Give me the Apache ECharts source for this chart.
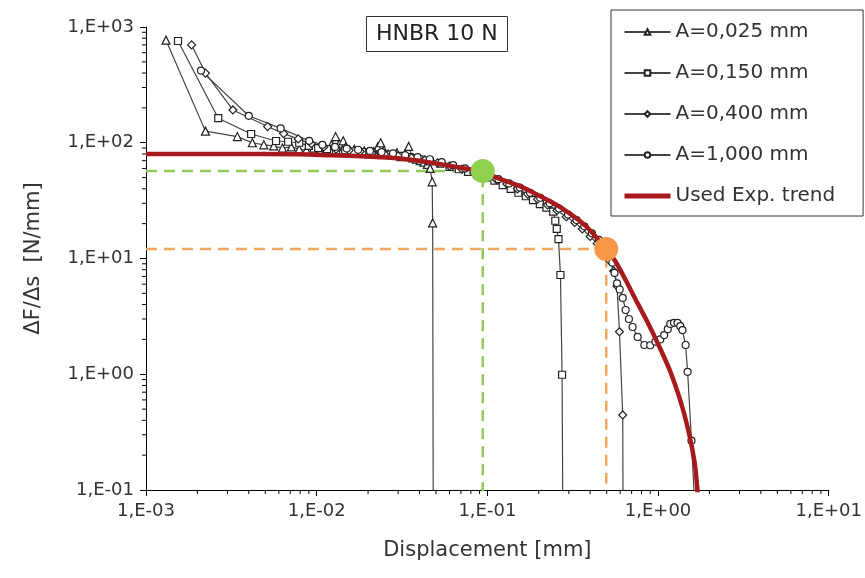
<!DOCTYPE html>
<html>
<head>
<meta charset="utf-8">
<title>HNBR 10 N</title>
<script src="https://cdn.jsdelivr.net/npm/echarts@6.0.0/dist/echarts.min.js"></script>
<style>
  html, body { margin: 0; padding: 0; background: #fff; }
  #chart { width: 865px; height: 578px; }
</style>
</head>
<body>
<div id="chart"></div>
<script>
// A=0,025 mm (triangles)
const triX = [0.00131, 0.00223, 0.00343, 0.0042, 0.0049, 0.0056, 0.0063, 0.0071, 0.0079, 0.0087, 0.0096, 0.0105, 0.0114, 0.0122, 0.0129, 0.0136, 0.0143, 0.0148, 0.0156, 0.0166, 0.0178, 0.019, 0.0203, 0.0216, 0.0228, 0.0237, 0.0248, 0.0262, 0.0278, 0.0295, 0.0312, 0.0329, 0.0346, 0.0365, 0.0385, 0.0405, 0.0425, 0.0445, 0.0462, 0.0475, 0.0478, 0.0482];
const triY = [770, 126, 113, 100, 96, 94, 90, 92, 88, 86, 90, 84, 88, 96, 113, 98, 104, 92, 86, 88, 82, 85, 80, 84, 92, 100, 86, 80, 78, 82, 76, 80, 93, 74, 72, 70, 68, 65, 60, 46, 20.3, 0.05];

// A=0,150 mm (squares)
const sqX = [0.00154, 0.00265, 0.00413, 0.00578, 0.0068, 0.0079, 0.009, 0.0102, 0.0115, 0.013, 0.0147, 0.0165, 0.0185, 0.021, 0.024, 0.027, 0.031, 0.035, 0.04, 0.046, 0.053, 0.06, 0.068, 0.077, 0.087, 0.098, 0.11, 0.123, 0.137, 0.152, 0.168, 0.185, 0.203, 0.222, 0.243, 0.25, 0.255, 0.261, 0.268, 0.274, 0.277];
const sqY = [757, 163, 119, 103.5, 102, 100, 94, 90, 88, 86, 86, 84, 83, 82, 80, 79, 77, 75, 72, 69, 66, 62, 59, 56, 53, 50, 47, 43, 40, 37, 34.5, 32, 29.5, 27.5, 25.4, 21.2, 18, 14.7, 7.2, 0.99, 0.05];

// A=0,400 mm (diamonds)
const diaX = [0.00185, 0.00223, 0.00323, 0.00516, 0.0064, 0.0078, 0.0093, 0.011, 0.013, 0.0155, 0.018, 0.021, 0.025, 0.03, 0.036, 0.043, 0.051, 0.06, 0.071, 0.083, 0.097, 0.113, 0.13, 0.15, 0.172, 0.197, 0.225, 0.256, 0.29, 0.325, 0.36, 0.4, 0.44, 0.48, 0.52, 0.55, 0.575, 0.594, 0.621, 0.624];
const diaY = [700, 400, 192, 138, 120, 108, 98, 92, 88, 86, 84, 82, 80, 77, 74, 71, 67, 63, 59, 55, 52, 48, 44, 40, 36, 32.5, 29, 26, 23, 20.5, 18, 15.5, 13.5, 11.5, 9.6, 7.8, 5.8, 2.33, 0.445, 0.05];

// A=1,000 mm (circles)
const cirX = [0.0021, 0.004, 0.00615, 0.00904, 0.0108, 0.0128, 0.015, 0.0175, 0.0205, 0.024, 0.028, 0.033, 0.039, 0.046, 0.054, 0.063, 0.074, 0.086, 0.1, 0.116, 0.134, 0.155, 0.178, 0.204, 0.232, 0.263, 0.297, 0.333, 0.37, 0.41, 0.45, 0.49, 0.52, 0.54, 0.556, 0.575, 0.596, 0.621, 0.646, 0.675, 0.709, 0.759, 0.831, 0.9, 0.966, 1.03, 1.086, 1.14, 1.18, 1.24, 1.30, 1.35, 1.39, 1.45, 1.49, 1.57, 1.66];
const cirY = [420, 171, 133, 104, 96, 92, 89, 87, 85, 83, 81, 78, 75, 72, 68, 64, 60, 56, 52.5, 48.5, 44.5, 41, 37, 33.5, 30, 27, 24, 21.5, 19, 16.5, 14.5, 12.8, 11.2, 9.2, 7.5, 6.1, 5.4, 4.56, 3.59, 3.0, 2.56, 2.1, 1.79, 1.78, 1.91, 2.0, 2.18, 2.45, 2.72, 2.78, 2.78, 2.6, 2.41, 1.79, 1.05, 0.267, 0.05];

// Used Exp. trend
const trendX = [0.001, 0.003, 0.008, 0.012, 0.02, 0.03, 0.045, 0.074, 0.094, 0.116, 0.15, 0.181, 0.23, 0.284, 0.35, 0.406, 0.494, 0.556, 0.65, 0.759, 0.87, 0.996, 1.19, 1.42, 1.63, 1.72];
const trendY = [80, 80, 79.5, 78, 76, 73.5, 68, 60, 56, 49.3, 43, 37.8, 31.5, 26.2, 21, 17.1, 12.1, 9.7, 6.4, 4.1, 2.8, 1.85, 1.02, 0.46, 0.18, 0.08];

// highlighted points (green, orange)
const greenPt = [0.094, 57];
const orangePt = [0.497, 12.1];

// minor tick values (2..9 per decade)
const minorMult = [2, 3, 4, 5, 6, 7, 8, 9];
const xDecades = [0.001, 0.01, 0.1, 1];
const yDecades = [0.1, 1, 10, 100];

const FONT = 'DejaVu Sans';
const TXT = '#333';
const RED = '#a8191c';

const zip = (xs, ys) => xs.map((x, i) => [x, ys[i]]);

// 1,E+03 style labels
const sciLabel = v => {
  const e = Math.round(Math.log10(v));
  return '1,E' + (e < 0 ? '-' : '+') + String(Math.abs(e)).padStart(2, '0');
};

const dataSeries = (name, symbol, size, xs, ys) => ({
  name,
  type: 'line',
  data: zip(xs, ys),
  symbol,
  symbolSize: size,
  showSymbol: true,
  showAllSymbol: true,
  z: 3,
  lineStyle: { color: '#444', width: 1.2 },
  itemStyle: { color: '#fff', borderColor: '#222', borderWidth: 1.2 },
  emphasis: { disabled: true }
});

const guide = (pt, color) => ({
  type: 'line',
  data: [[0.001, pt[1]], [pt[0], pt[1]], [pt[0], 0.05]],
  symbol: 'none',
  z: 1,
  lineStyle: { color, width: 2.5, type: [11, 7] },
  emphasis: { disabled: true }
});

const dot = (pt, color) => ({
  type: 'scatter',
  data: [pt],
  symbolSize: 24,
  z: 6,
  itemStyle: { color, opacity: 1 },
  emphasis: { disabled: true }
});

const minorX = [];
xDecades.forEach(d => minorMult.forEach(m => minorX.push([d * m, 1])));
const minorY = [];
yDecades.forEach(d => minorMult.forEach(m => minorY.push([0.01, d * m])));

const chart = echarts.init(document.getElementById('chart'));
chart.setOption({
  animation: false,
  backgroundColor: '#fff',
  title: {
    text: 'HNBR 10 N',
    left: 366,
    top: 16,
    padding: [7, 10, 7, 10],
    borderColor: '#333',
    borderWidth: 1,
    textStyle: { fontFamily: FONT, fontSize: 22, fontWeight: 'normal', color: '#222' }
  },
  legend: {
    data: [
      'A=0,025 mm',
      'A=0,150 mm',
      'A=0,400 mm',
      'A=1,000 mm',
      { name: 'Used Exp. trend', itemStyle: { opacity: 0 }, lineStyle: { width: 5, color: RED } }
    ],
    orient: 'vertical',
    left: 611,
    top: 10,
    padding: [11, 28, 9, 11],
    itemGap: 19,
    itemWidth: 46,
    itemHeight: 7,
    itemTextGap: 8,
    borderColor: '#333',
    borderWidth: 1,
    backgroundColor: '#fff',
    textStyle: { fontFamily: FONT, fontSize: 20, color: TXT, lineHeight: 22 }
  },
  grid: { left: 146, right: 33, top: 27, bottom: 88 },
  xAxis: {
    type: 'log',
    logBase: 10,
    min: 0.001,
    max: 10,
    name: 'Displacement [mm]',
    nameLocation: 'middle',
    nameGap: 50,
    nameTextStyle: { fontFamily: FONT, fontSize: 21, color: TXT },
    axisLine: { lineStyle: { color: '#000', width: 1 } },
    axisTick: { length: 6, lineStyle: { color: '#000' } },
    axisLabel: { fontFamily: FONT, fontSize: 18, color: TXT, margin: 12, formatter: sciLabel },
    splitLine: { show: false }
  },
  yAxis: {
    type: 'log',
    logBase: 10,
    min: 0.1,
    max: 1000,
    name: 'ΔF/Δs  [N/mm]',
    nameLocation: 'middle',
    nameGap: 102,
    nameTextStyle: { fontFamily: FONT, fontSize: 21, color: TXT },
    axisLine: { show: true, lineStyle: { color: '#000', width: 1 } },
    axisTick: { show: true, length: 6, lineStyle: { color: '#000' } },
    axisLabel: { fontFamily: FONT, fontSize: 18, color: TXT, margin: 12, formatter: sciLabel },
    splitLine: { show: false }
  },
  series: [
    guide(greenPt, '#92c85a'),
    guide(orangePt, '#f0a860'),
    dataSeries('A=0,025 mm', 'triangle', 8, triX, triY),
    dataSeries('A=0,150 mm', 'rect', 7, sqX, sqY),
    dataSeries('A=0,400 mm', 'diamond', 8, diaX, diaY),
    dataSeries('A=1,000 mm', 'circle', 7, cirX, cirY),
    {
      name: 'Used Exp. trend',
      type: 'line',
      data: zip(trendX, trendY),
      symbol: 'none',
      smooth: 0.3,
      z: 5,
      lineStyle: { color: RED, width: 4.5 },
      itemStyle: { color: RED },
      emphasis: { disabled: true }
    },
    dot(greenPt, '#8fd14f'),
    dot(orangePt, '#f79646'),
    // minor ticks on x axis
    {
      type: 'custom',
      data: minorX,
      clip: false,
      silent: true,
      renderItem: (params, api) => {
        const p = api.coord([api.value(0), 0.1]);
        return { type: 'line', shape: { x1: p[0], y1: p[1], x2: p[0], y2: p[1] + 4 }, style: { stroke: '#000', lineWidth: 1 } };
      }
    },
    // minor ticks on y axis
    {
      type: 'custom',
      data: minorY,
      clip: false,
      silent: true,
      renderItem: (params, api) => {
        const p = api.coord([0.001, api.value(1)]);
        return { type: 'line', shape: { x1: p[0] - 4, y1: p[1], x2: p[0], y2: p[1] }, style: { stroke: '#000', lineWidth: 1 } };
      }
    }
  ]
});
</script>
</body>
</html>
